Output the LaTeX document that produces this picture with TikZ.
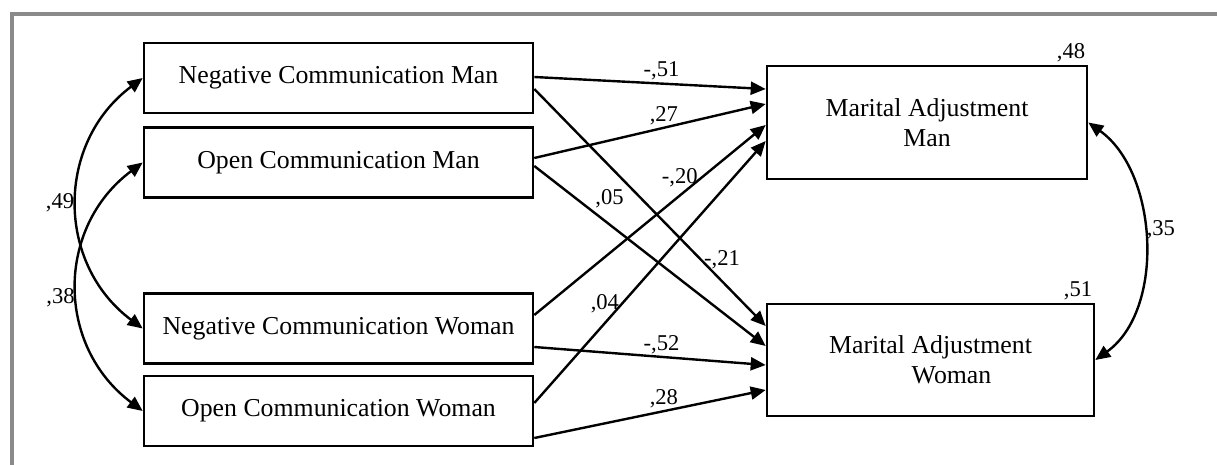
\documentclass[tikz,border=0pt]{standalone}
\usepackage{fontspec}
\setmainfont{Liberation Serif}
\usetikzlibrary{arrows.meta}
\definecolor{framegray}{RGB}{138,138,138}

\begin{document}
\begin{tikzpicture}[x=0.5pt, y=-0.5pt, line width=1.2pt,
  >={Triangle[length=7.5pt,width=6.5pt]},
  var/.style={draw, line width=1.3pt, minimum width=194.5pt, minimum height=35pt,
    inner sep=0pt, font=\fontsize{12.9}{15}\selectfont},
  dep/.style={var, align=center, minimum height=56.5pt},
  coef/.style={inner sep=1pt, font=\fontsize{11.3}{13}\selectfont}]
\useasboundingbox (0,0) rectangle (1217,465);
\draw[framegray, line width=2pt] (12,465) -- (12,14.5) -- (1217,14.5);
\node (n1) at (338.5, 78) [var] {Negative Communication Man};
\node (n2) at (338.5, 162.5) [var] {Open Communication Man};
\node (n3) at (338.5, 328.5) [var] {Negative Communication Woman};
\node (n4) at (338.5, 411) [var] {Open Communication Woman};
\node (n5) at (927, 122.5) [dep, minimum width=160pt] {Marital Adjustment\\Man};
\node (n6) at (930.5, 360) [dep, minimum width=163.5pt, minimum height=56pt] {Marital Adjustment\\\hspace*{1.63em}Woman};
\node (r1) at (n5.north east) [coef, anchor=south east] {,48};
\node (r2) at (n6.north east) [coef, anchor=south east] {,51};
\draw[->] ([yshift=0.5pt]n1.east) -- ([yshift=16.75pt]n5.west) node (w1) [coef, above, pos=0.55] {-,51};
\draw[->] ([yshift=2.25pt]n2.east) -- ([yshift=9.25pt]n5.west) node (w2) [coef, above, pos=0.56] {,27};
\draw[->] ([yshift=6.75pt]n3.east) -- ([yshift=-1.25pt]n5.west) node (w3) [coef, left, pos=0.72] {-,20};
\draw[->] ([yshift=4pt]n4.east) -- ([yshift=-9.25pt]n5.west) node (w4) [coef, left, pos=0.38] {,04};
\draw[->] ([yshift=-5.5pt]n1.east) -- ([yshift=17pt]n6.west) node (w5) [coef, right, pos=0.72] {-,21};
\draw[->] ([yshift=-1.75pt]n2.east) -- ([yshift=7pt]n6.west) node (w6) [coef, above right, pos=0.25] {,05};
\draw[->] ([yshift=-9.25pt]n3.east) -- ([yshift=-2.5pt]n6.west) node (w7) [coef, above, pos=0.55] {-,52};
\draw[->] ([yshift=-13.5pt]n4.east) -- ([yshift=-15pt]n6.west) node (w8) [coef, above, pos=0.56] {,28};
\draw[<->] (n1.west) .. controls +(-87,65) and +(-87,-65) .. (n3.west) node (c1) [coef, left, midway] {,49};
\draw[<->] (n2.west) .. controls +(-87,65) and +(-87,-65) .. (n4.west) node (c2) [coef, left, pos=0.54] {,38};
\draw[<->] (n5.east) .. controls +(70,50) and +(70,-50) .. (n6.east) node (c3) [coef, right, pos=0.46] {,35};
\end{tikzpicture}
\end{document}
